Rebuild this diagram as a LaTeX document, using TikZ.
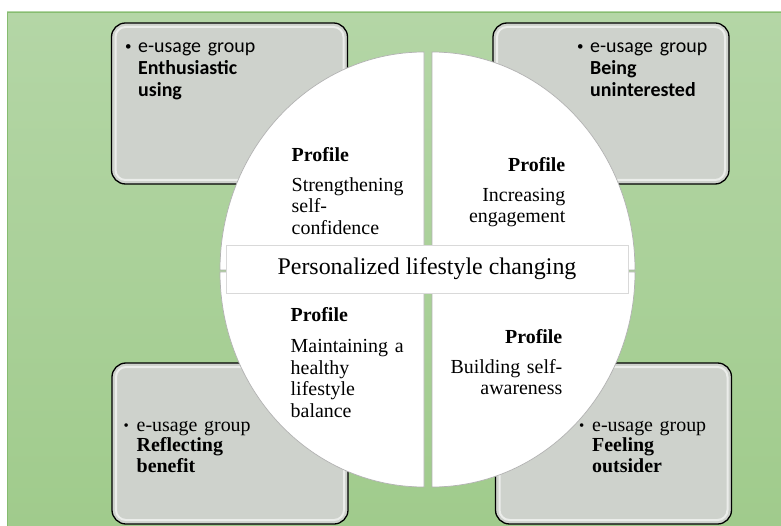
\documentclass[tikz,border=0pt]{standalone}
\usepackage{fontspec}
\setmainfont{Liberation Serif}
\newfontfamily\calibri{Carlito}
\definecolor{bgtop}{HTML}{B4D6A6}
\definecolor{bgbottom}{HTML}{A0CB8C}
\definecolor{bgline}{HTML}{86BC70}
\definecolor{boxgray}{HTML}{CED2CC}

\begin{document}
\begin{tikzpicture}[x=1bp,y=-1bp]
\tikzset{groupbox/.style = {draw, line width=1.3bp, rounded corners=14bp, fill=boxgray, minimum width=236bp, minimum height=161bp, inner sep=0pt,
  path picture={\draw[white, opacity=0.6, line width=2bp, rounded corners=10bp] ([shift={(4bp,4bp)}]path picture bounding box.south west) rectangle ([shift={(-4bp,-4bp)}]path picture bounding box.north east);}}}
\tikzset{quad/.style = {fill=white, draw=black!30, line width=0.7bp}}
\tikzset{sanstext/.style = {anchor=base west, inner sep=0pt, text width=200bp, align=left, font=\calibri\fontsize{20}{22}\selectfont}}
\tikzset{seriftext/.style = {anchor=base west, inner sep=0pt, text width=200bp, align=left, font=\fontsize{20}{21}\selectfont}}
\tikzset{proftext/.style = {inner sep=0pt, text width=130bp, font=\fontsize{20}{21.5}\selectfont}}
\newcommand{\bul}{\llap{\makebox[13bp][l]{\raisebox{2.5bp}{\fontsize{13}{13}\selectfont\textbullet}}}}
\newcommand{\sbul}{\llap{\makebox[13bp][l]{\raisebox{0.5bp}{\fontsize{15}{15}\selectfont\textbullet}}}}

\useasboundingbox (0,0) rectangle (781,526);
\fill[white] (0,0) rectangle (781,526);
\shade[top color=bgtop, bottom color=bgbottom, draw=bgline] (7,12) rectangle (781,526);

\node[groupbox] (enth) at (229.5,103.5) {};
\node[groupbox] (unint) at (611,103.5) {};
\node[groupbox] (refl) at (230,443.5) {};
\node[groupbox] (outs) at (613.5,443.5) {};

\fill[quad] (424,270) -- (220,270) arc[start angle=180, end angle=270, x radius=204, y radius=218] -- cycle;
\fill[quad] (432,270) -- (432,52) arc[start angle=270, end angle=360, x radius=203, y radius=218] -- cycle;
\fill[quad] (432,272) -- (635,272) arc[start angle=0, end angle=90, x radius=203, y radius=215] -- cycle;
\fill[quad] (424,272) -- (424,487) arc[start angle=90, end angle=180, x radius=204, y radius=215] -- cycle;

\node[draw=black!15, fill=white, minimum width=402bp, minimum height=48bp, inner sep=0pt, font=\fontsize{24}{26}\selectfont] (core) at (427,269) {Personalized lifestyle changing};

\node[sanstext] (t1) at (138,53) {\bul e-usage group\\\textbf{Enthusiastic}\\\textbf{using}};
\node[sanstext] (t2) at (590,53) {\bul e-usage group\\\textbf{Being}\\\textbf{uninterested}};
\node[seriftext] (t3) at (136.5,431) {\sbul e-usage group\\\textbf{Reflecting}\\\textbf{benefit}};
\node[seriftext] (t4) at (592,431) {\sbul e-usage group\\\textbf{Feeling}\\\textbf{outsider}};

\node[proftext, anchor=base west, align=left] (p1) at (291.5,161.5) {\textbf{Profile}\\[8.5bp]Strengthening\\self-\\confidence};
\node[proftext, anchor=base east, align=right] (p2) at (565.5,171.5) {\textbf{Profile}\\[8.5bp]Increasing\\engagement};
\node[proftext, anchor=base west, align=left] (p3) at (290.5,321.5) {\textbf{Profile}\\[10bp]Maintaining a\\healthy\\lifestyle\\balance};
\node[proftext, anchor=base east, align=right] (p4) at (562.5,343.5) {\textbf{Profile}\\[8.5bp]Building self-\\awareness};
\end{tikzpicture}
\end{document}
